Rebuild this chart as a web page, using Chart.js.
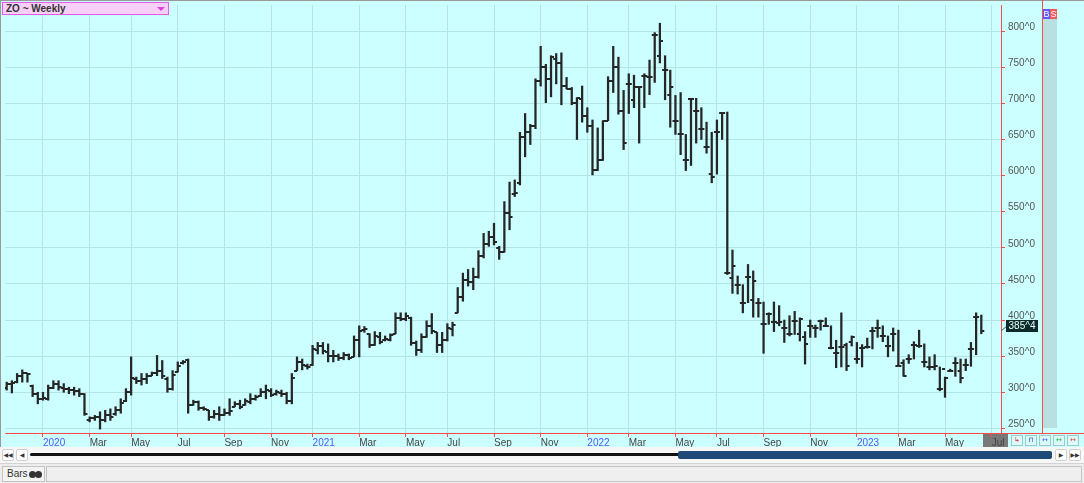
<!DOCTYPE html>
<html>
<head>
<meta charset="utf-8">
<title>ZO ~ Weekly</title>
<script src="https://cdn.jsdelivr.net/npm/chart.js@4.4.0/dist/chart.umd.min.js"></script>
<style>
  html, body { margin: 0; padding: 0; background: #f0f0f0; }
  #wrap { position: relative; width: 1084px; height: 483px; overflow: hidden; font-family: "Liberation Sans", Arial, sans-serif; }
  #chart { position: absolute; left: 0; top: 0; }
  .abs { position: absolute; box-sizing: border-box; }
  #symbol { left: 2px; top: 2px; width: 167px; height: 13px; background: #f6d0f6; border: 1px solid #e05ee0;
            font-weight: bold; font-size: 10px; line-height: 11px; color: #333; padding-left: 3px; }
  #symbol .tri { position: absolute; right: 3px; top: 4px; width: 0; height: 0;
                 border-left: 4px solid transparent; border-right: 4px solid transparent; border-top: 4px solid #e040e0; }
  #scrollRow { left: 0; top: 447px; width: 1084px; height: 16px; background: #f6f6f6; }
  .btn { background: #fff; border: 1px solid #cfcfcf; border-radius: 2px; font-family: "DejaVu Sans", sans-serif;
         font-size: 6px; line-height: 10px; text-align: center; color: #333; }
  #track { left: 30px; top: 453px; width: 650px; height: 3px; background: #111; border-radius: 2px; }
  #thumb { left: 678px; top: 451px; width: 374px; height: 8px; background: #1f4a78; border-radius: 2px; }
  #tabRow { left: 0; top: 463px; width: 1084px; height: 20px; background: #ededed; border-top: 1px solid #d2d2d2; }
  #barsTab { left: 2px; top: 466px; width: 43px; height: 16px; background: #f3f3f3; border: 1px solid #c4c4c4;
             font-size: 10px; line-height: 14px; color: #333; padding-left: 4px; }
  #barsTab .dot { display: inline-block; width: 7px; height: 7px; border-radius: 50%; background: #333; margin-left: -1px; vertical-align: -1px; }
  #field { left: 46px; top: 466px; width: 1036px; height: 16px; background: #efefef; border: 1px solid #c4c4c4; }
  .tool { top: 435px; width: 12px; height: 11px; background: #dcfafa; border: 1px solid #9ccaca;
          font-family: "DejaVu Sans", sans-serif; font-size: 7px; line-height: 9px; text-align: center; }
</style>
</head>
<body>
<div id="wrap">
  <canvas id="chart" width="1084" height="483"></canvas>
  <div id="symbol" class="abs">ZO ~ Weekly<span class="tri"></span></div>
  <div class="abs tool" style="left:1011px;color:#e03030">&#8627;</div>
  <div class="abs tool" style="left:1025px;color:#2040e0">&#8851;</div>
  <div class="abs tool" style="left:1039px;color:#4060f0">&#8596;</div>
  <div class="abs tool" style="left:1053px;color:#20b040">&#8596;</div>
  <div class="abs tool" style="left:1067px;color:#e04040">&#8596;</div>
  <div id="scrollRow" class="abs"></div>
  <div class="abs btn" style="left:2px;top:449px;width:12px;height:12px">&#9664;&#9664;</div>
  <div class="abs btn" style="left:16px;top:449px;width:12px;height:12px">&#9664;</div>
  <div id="track" class="abs"></div>
  <div id="thumb" class="abs"></div>
  <div class="abs btn" style="left:1055px;top:449px;width:12px;height:12px">&#9654;</div>
  <div class="abs btn" style="left:1069px;top:449px;width:12px;height:12px">&#9654;&#9654;</div>
  <div id="tabRow" class="abs"></div>
  <div id="barsTab" class="abs">Bars <span class="dot"></span><span class="dot"></span></div>
  <div id="field" class="abs"></div>
</div>
<script>
// Weekly oats futures, one bar per week starting mid Nov 2019
const opens = [
  306, 311, 314, 322, 327, 308, 297, 290, 291, 306, 312, 306, 304, 303, 302, 297, 262, 264, 266, 262,
  268, 270, 276, 288, 300, 318, 316, 318, 323, 327, 330, 318, 305, 328, 340, 345, 282, 287, 278, 276,
  266, 270, 268, 271, 280, 284, 282, 287, 290, 295, 300, 302, 297, 299, 297, 288, 330, 342, 337, 338,
  358, 364, 356, 350, 350, 347, 352, 349, 372, 386, 380, 366, 377, 372, 373, 381, 403, 402, 403, 368,
  358, 376, 392, 383, 366, 372, 388, 410, 432, 455, 452, 460, 488, 505, 515, 500, 494, 548, 575, 590,
  654, 660, 668, 731, 750, 734, 762, 756, 724, 720, 700, 706, 683, 669, 608, 622, 676, 731, 750, 690,
  727, 705, 722, 738, 736, 795, 766, 746, 711, 676, 657, 622, 706, 690, 665, 640, 602, 660, 686, 465,
  458, 449, 424, 459, 428, 424, 394, 409, 397, 396, 389, 381, 399, 380, 376, 392, 389, 398, 392, 361,
  355, 362, 366, 369, 346, 361, 363, 385, 389, 378, 364, 381, 337, 340, 346, 366, 364, 342, 335, 335,
  304, 332, 329, 340, 330, 338, 360, 404
];
const highs = [
  314, 316, 326, 331, 326, 310, 300, 300, 310, 316, 316, 312, 307, 307, 305, 298, 266, 268, 273, 275,
  277, 280, 291, 305, 349, 321, 326, 326, 328, 351, 344, 321, 330, 342, 344, 346, 289, 288, 280, 275,
  275, 280, 277, 291, 287, 289, 291, 298, 296, 305, 310, 305, 303, 303, 300, 326, 349, 346, 339, 365,
  369, 369, 367, 358, 353, 355, 353, 378, 392, 391, 381, 384, 383, 378, 381, 410, 410, 410, 404, 371,
  381, 399, 409, 383, 383, 395, 397, 445, 465, 470, 472, 496, 520, 523, 534, 502, 564, 591, 594, 660,
  686, 671, 734, 779, 754, 766, 769, 770, 736, 722, 708, 724, 694, 677, 666, 676, 737, 779, 764, 718,
  741, 739, 723, 741, 760, 798, 811, 766, 746, 711, 715, 657, 706, 707, 694, 674, 660, 677, 686, 688,
  497, 461, 449, 477, 468, 430, 425, 410, 425, 420, 400, 406, 412, 403, 384, 400, 393, 400, 403, 392,
  372, 410, 368, 378, 369, 366, 375, 390, 400, 392, 378, 389, 386, 345, 352, 370, 386, 367, 349, 352,
  335, 321, 332, 348, 346, 346, 369, 410, 407
];
const lows = [
  303, 299, 313, 314, 314, 294, 284, 289, 289, 305, 303, 300, 298, 296, 294, 268, 259, 261, 249, 259,
  261, 268, 271, 287, 296, 312, 310, 312, 323, 323, 319, 300, 303, 328, 339, 271, 282, 275, 275, 261,
  264, 261, 268, 268, 280, 277, 282, 284, 289, 294, 291, 294, 296, 294, 284, 284, 330, 331, 332, 337,
  353, 353, 342, 342, 344, 345, 345, 349, 349, 383, 362, 365, 367, 371, 371, 381, 399, 399, 365, 351,
  355, 376, 381, 355, 355, 371, 378, 410, 426, 447, 442, 458, 486, 502, 504, 484, 494, 525, 571, 587,
  626, 643, 665, 724, 701, 709, 727, 698, 720, 698, 650, 674, 660, 601, 607, 621, 676, 715, 685, 636,
  686, 694, 645, 694, 712, 729, 756, 705, 667, 657, 629, 607, 614, 645, 650, 631, 590, 602, 650, 463,
  437, 436, 410, 424, 404, 404, 354, 394, 384, 392, 369, 378, 380, 371, 339, 376, 376, 386, 391, 360,
  334, 335, 330, 364, 340, 335, 361, 360, 376, 370, 349, 357, 337, 322, 340, 346, 362, 335, 331, 331,
  302, 293, 329, 322, 313, 330, 336, 352, 381
];
const closes = [
  311, 313, 322, 327, 325, 298, 290, 292, 306, 312, 307, 304, 303, 302, 298, 270, 264, 266, 262, 268,
  266, 276, 285, 300, 320, 316, 318, 322, 327, 330, 322, 305, 324, 336, 342, 282, 286, 278, 277, 266,
  270, 268, 271, 274, 284, 280, 288, 290, 293, 300, 303, 296, 300, 297, 288, 320, 342, 338, 335, 360,
  364, 357, 350, 350, 347, 352, 348, 372, 385, 388, 366, 378, 370, 374, 379, 403, 401, 406, 368, 358,
  376, 392, 385, 366, 372, 389, 393, 432, 455, 452, 460, 488, 505, 515, 508, 494, 548, 543, 576, 654,
  660, 668, 731, 750, 734, 764, 756, 724, 720, 700, 708, 683, 669, 608, 622, 676, 731, 750, 690, 645,
  727, 723, 722, 738, 736, 795, 786, 746, 722, 676, 657, 622, 706, 690, 665, 640, 598, 660, 686, 465,
  475, 449, 424, 459, 454, 424, 394, 409, 397, 397, 389, 381, 399, 401, 367, 392, 389, 398, 392, 361,
  355, 362, 337, 376, 346, 361, 363, 385, 389, 378, 364, 381, 337, 323, 346, 366, 364, 342, 335, 337,
  304, 320, 329, 340, 320, 338, 360, 404, 385.5
];

// bottom axis labels: bar index of the first week of every other month
const tickIndex = [7, 16, 24, 33, 42, 51, 59, 68, 77, 85, 94, 103, 112, 120, 129, 137, 146, 155, 164, 172, 181, 190];
const tickText = ['2020', 'Mar', 'May', 'Jul', 'Sep', 'Nov', '2021', 'Mar', 'May', 'Jul', 'Sep', 'Nov',
                  '2022', 'Mar', 'May', 'Jul', 'Sep', 'Nov', '2023', 'Mar', 'May', 'Jul'];
const priceTicks = [250, 300, 350, 400, 450, 500, 550, 600, 650, 700, 750, 800];

const barColor = '#262626';

// little horizontal ticks for open (left) and close (right)
function tickImage(side) {
  const c = document.createElement('canvas');
  c.width = 8;
  c.height = 2;
  const g = c.getContext('2d');
  g.fillStyle = barColor;
  g.fillRect(side === 'open' ? 1 : 4, 0, 3, 2);
  return c;
}

// price in eighths like the quote board: 385.5 -> 385^4
function fmtPrice(v) {
  const whole = Math.floor(v);
  return whole + '^' + Math.round((v - whole) * 8);
}

const backdrop = {
  id: 'backdrop',
  beforeDraw(chart) {
    const ctx = chart.ctx;
    ctx.save();
    ctx.fillStyle = '#ccffff';
    ctx.fillRect(0, 0, chart.width, 447);
    ctx.fillStyle = '#787878';
    ctx.fillRect(983, 434, 25, 13);
    ctx.restore();
  },
  afterDraw(chart) {
    const ctx = chart.ctx;
    const yScale = chart.scales.y;
    ctx.save();
    // frame lines
    ctx.fillStyle = '#9a9a9a';
    ctx.fillRect(0, 0, chart.width, 1);
    ctx.fillRect(0, 0, 1, 447);
    ctx.fillStyle = '#ff4a4a';
    ctx.fillRect(1042, 0, 1, 434);
    ctx.fillRect(1001, 433, 83, 1);
    // order strip + B/S buttons
    ctx.fillStyle = '#b8e0e0';
    ctx.fillRect(1043, 19, 14, 409);
    ctx.fillStyle = '#5a5aff';
    ctx.fillRect(1043, 9, 7, 10);
    ctx.fillStyle = '#f25a5a';
    ctx.fillRect(1050, 9, 7, 10);
    ctx.fillStyle = '#fff';
    ctx.font = '9px "Liberation Sans", Arial, sans-serif';
    ctx.textAlign = 'center';
    ctx.textBaseline = 'middle';
    ctx.fillText('B', 1046.5, 14.5);
    ctx.fillText('S', 1053.5, 14.5);
    // last price flag
    const last = closes[closes.length - 1];
    const py = Math.round(yScale.getPixelForValue(last));
    ctx.strokeStyle = '#556';
    ctx.lineWidth = 1;
    ctx.beginPath();
    ctx.moveTo(1001, py);
    ctx.lineTo(1007, py - 5);
    ctx.stroke();
    ctx.fillStyle = '#0d2a2a';
    ctx.fillRect(1006, py - 11, 32, 12);
    ctx.fillStyle = '#e6ffff';
    ctx.font = '10px "Liberation Sans", Arial, sans-serif';
    ctx.fillText(fmtPrice(last), 1022, py - 4.5);
    ctx.restore();
  }
};

const rangeData = highs.map((h, i) => ({ x: i, y: [lows[i], h] }));
const openData = opens.map((v, i) => ({ x: i, y: v }));
const closeData = closes.map((v, i) => ({ x: i, y: v }));

Chart.defaults.font.family = '"Liberation Sans", Arial, sans-serif';
Chart.defaults.font.size = 10;

new Chart(document.getElementById('chart'), {
  type: 'bar',
  plugins: [backdrop],
  data: {
    datasets: [
      {
        type: 'bar',
        data: rangeData,
        backgroundColor: barColor,
        borderWidth: 0,
        barThickness: 1.6,
        grouped: false,
      },
      {
        type: 'line',
        data: openData,
        showLine: false,
        pointStyle: tickImage('open'),
        pointRadius: 3,
      },
      {
        type: 'line',
        data: closeData,
        showLine: false,
        pointStyle: tickImage('close'),
        pointRadius: 3,
      },
    ],
  },
  options: {
    responsive: false,
    animation: false,
    events: [],
    layout: { padding: { left: 1, top: 2, right: 41, bottom: 36 } },
    plugins: {
      legend: { display: false },
      tooltip: { enabled: false },
    },
    scales: {
      x: {
        type: 'linear',
        offset: false,
        min: -0.33,
        max: 191.8,
        afterBuildTicks: (axis) => {
          axis.ticks = tickIndex.map((v) => ({ value: v }));
        },
        afterFit: (scale) => {
          scale.height = 14;
          scale.paddingLeft = 0;
          scale.paddingRight = 0;
        },
        border: { color: '#ff4a4a', width: 1 },
        grid: { offset: false, color: '#b4e4e4', tickColor: '#ff4a4a', tickLength: 4 },
        ticks: {
          autoSkip: false,
          maxRotation: 0,
          minRotation: 0,
          align: 'start',
          padding: 0,
          callback: (value) => tickText[tickIndex.indexOf(value)],
          color: (ctx) => (/^\d{4}$/.test(ctx.tick.label) ? '#5656ff' : '#444'),
        },
      },
      y: {
        type: 'linear',
        position: 'right',
        min: 243.6,
        max: 836.2,
        afterBuildTicks: (axis) => {
          axis.ticks = priceTicks.map((v) => ({ value: v }));
        },
        afterFit: (scale) => {
          scale.width = 42;
          scale.paddingTop = 0;
          scale.paddingBottom = 0;
        },
        border: { color: '#ff4a4a', width: 1 },
        grid: { color: '#b4e4e4', tickColor: '#ff4a4a', tickLength: 4 },
        ticks: {
          padding: 3,
          labelOffset: -4,
          color: '#555',
          callback: (value) => value + '^0',
        },
      },
    },
  },
});
</script>
</body>
</html>
